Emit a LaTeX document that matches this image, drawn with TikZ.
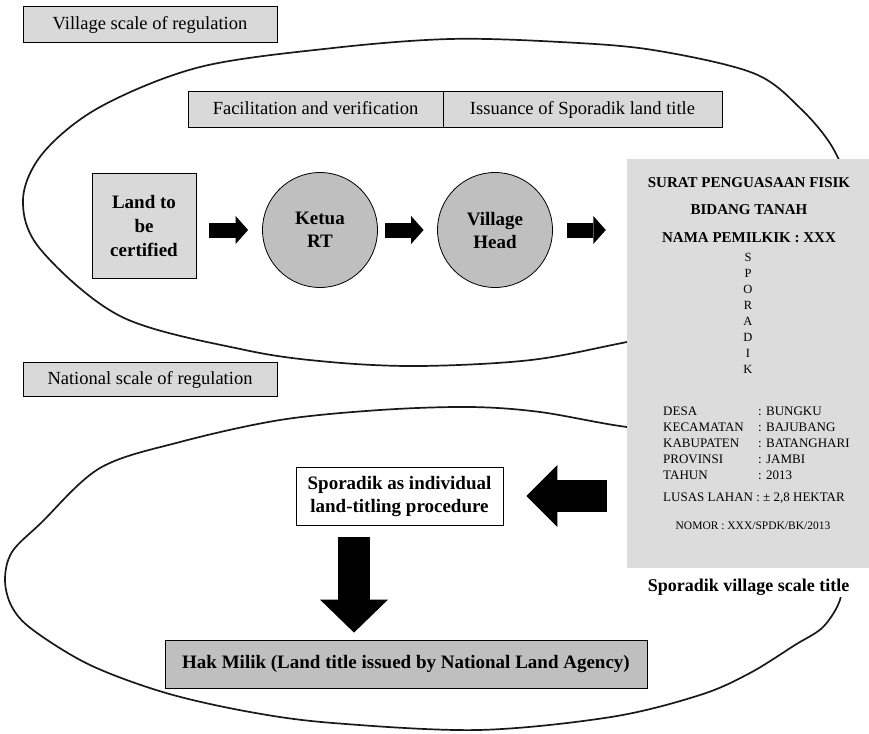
\documentclass[tikz,border=0pt]{standalone}
\usepackage{fontspec}
\setmainfont{Liberation Serif}
\usetikzlibrary{arrows.meta}
\definecolor{lg}{HTML}{D9D9D9}
\definecolor{mg}{HTML}{BFBFBF}
\definecolor{dg}{HTML}{DCDCDD}
\begin{document}
\begin{tikzpicture}[x=1pt,y=-1pt,
  lbl/.style={draw=black,line width=0.8pt,fill=lg,inner sep=0pt,text height=14pt,text depth=3pt,font=\fontsize{18.5}{22}\selectfont},
  boldtxt/.style={font=\bfseries\fontsize{19}{23}\selectfont,align=center},
  oval/.style={line width=1.7pt,draw=black!90},
  blk/.style={line width=15pt,-{Triangle[width=28pt,length=12.5pt,line width=0pt]}},
  docf/.style={font=\fontsize{13}{15}\selectfont},
  dochead/.style={font=\bfseries\fontsize{15}{18}\selectfont,anchor=base},
]
\useasboundingbox (0,0) rectangle (869,733);

% ovals
\draw[oval] plot[smooth cycle, tension=0.55] coordinates {
 (23,200) (43,153) (100,107) (200,67) (333,48) (450,39) (560,42) (653,50)
 (753,73) (800,108) (834,150) (850,200) (838,262) (760,315) (627,342)
 (531,360) (420,366) (330,362) (245,350) (122,317) (41,250)};
\draw[oval] plot[smooth cycle, tension=0.55] coordinates {
 (627,427) (540,412) (470,407) (380,410) (280,420) (180,442) (100,468)
 (41,523) (12,552) (5,580) (12,607) (33,630) (90,665) (166,693) (250,712)
 (333,723) (478,730) (611,717) (700,695) (750,673) (795,645) (822,628)
 (838,605) (842,585) (838,555) (828,520) (800,465) (720,435)};

% labels
\node[lbl,minimum width=254pt,minimum height=36pt] (vsr) at (150,24) {Village scale of regulation};
\node[lbl,minimum width=254pt,minimum height=34pt] (nsr) at (150,379) {National scale of regulation};
\node[lbl,minimum width=255pt,minimum height=36pt] (fac) at (315.5,109) {Facilitation and verification};
\node[lbl,minimum width=279pt,minimum height=36pt] (iss) at (582.5,109) {Issuance of Sporadik land title};

% village flow
\node[draw=black,line width=0.8pt,fill=lg,inner sep=0pt,align=center,font=\bfseries\fontsize{19}{24}\selectfont,minimum width=104pt,minimum height=105pt] (land) at (144,226) {Land to\\be\\certified};
\node[circle,draw=black,line width=0.8pt,fill=mg,minimum size=115pt,inner sep=0pt,boldtxt] (ketua) at (320,230) {Ketua\\RT};
\node[circle,draw=black,line width=0.8pt,fill=mg,minimum size=115pt,inner sep=0pt,boldtxt] (vhead) at (495,230) {Village\\Head};

% title label (white background)
\node[anchor=base,fill=white,inner xsep=10pt,inner ysep=2pt,text height=23pt,font=\bfseries\fontsize{18}{20}\selectfont] (ttl) at (748.5,591) {Sporadik village scale title};

% document
\node[fill=dg,minimum width=243pt,minimum height=409pt,inner sep=0pt] (doc) at (748.5,363.5) {};
\node[dochead] (h1) at (749,187) {SURAT PENGUASAAN FISIK};
\node[dochead] (h2) at (749,214) {BIDANG TANAH};
\node[dochead] (h3) at (749,242) {NAMA PEMILKIK : XXX};
\foreach \l [count=\i] in {S,P,O,R,A,D,I,K}
  \node[anchor=base,font=\fontsize{12.5}{14}\selectfont] (sp\i) at (748,{245+16*\i}) {\l};
\foreach \a/\b [count=\i] in {DESA/BUNGKU,KECAMATAN/BAJUBANG,KABUPATEN/BATANGHARI,PROVINSI/JAMBI,TAHUN/2013}{
  \node[docf,anchor=base west,inner sep=0pt] (k\i) at (663,{399+16*\i}) {\a};
  \node[docf,anchor=base west,inner sep=0pt] (v\i) at (758,{399+16*\i}) {: \b};
}
\node[docf,anchor=base west,inner sep=0pt] (lusas) at (663,501) {LUSAS LAHAN : ± 2,8 HEKTAR};
\node[anchor=base,font=\fontsize{11.5}{13}\selectfont] (nomor) at (753,529.5) {NOMOR : XXX/SPDK/BK/2013};

% national flow
\node[draw=black,line width=0.8pt,fill=white,boldtxt,minimum width=207pt,minimum height=58pt,inner sep=0pt] (spor) at (399.5,496) {Sporadik as individual\\land-titling procedure};
\node[draw=black,line width=0.8pt,fill=mg,boldtxt,minimum width=482pt,minimum height=48pt,inner sep=0pt] (hak) at (406,664) {Hak Milik (Land title issued by National Land Agency)};

% block arrows
\draw[blk,shorten <=13pt,shorten >=14pt] (land.east |- ketua.west) -- (ketua.west);
\draw[blk,shorten <=7.5pt,shorten >=13.5pt] (ketua.east) -- (vhead.west);
\draw[blk,shorten <=14.5pt,shorten >=21pt] (vhead.east) -- (doc.west |- vhead.east);
\draw[line width=32pt,-{Triangle[width=62pt,length=31pt,line width=0pt]},shorten <=20pt,shorten >=23pt] (doc.west |- spor.east) -- (spor.east);
\coordinate (dtop) at ([xshift=-45.5pt]spor.south);
\coordinate (dbot) at (dtop |- hak.north);
\draw[line width=32pt,-{Triangle[width=68pt,length=33pt,line width=0pt]},shorten <=12pt,shorten >=7pt] (dtop) -- (dbot);
\end{tikzpicture}
\end{document}
